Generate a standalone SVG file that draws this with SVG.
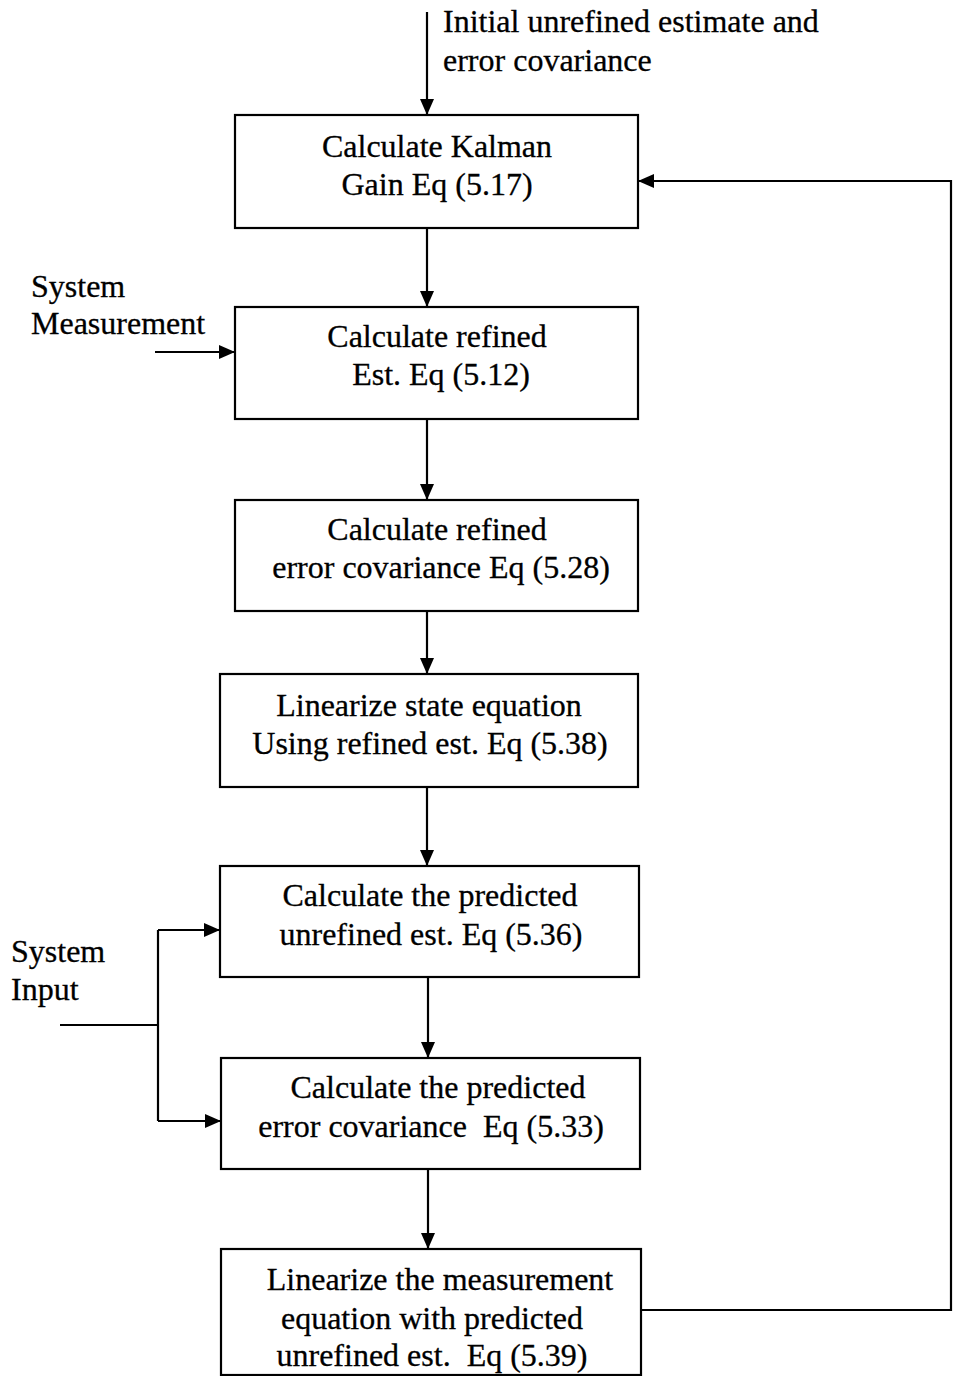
<svg xmlns="http://www.w3.org/2000/svg" width="954" height="1376" viewBox="0 0 954 1376">
  <style>
    .box { fill: #ffffff; stroke: #000000; stroke-width: 2.2; }
    .wire { fill: none; stroke: #000000; stroke-width: 2.2; }
    .t { font-family: "Liberation Serif", "Times New Roman", serif; font-size: 32px; fill: #000000; stroke: #000000; stroke-width: 0.3; }
    .c { text-anchor: middle; }
  </style>
  <defs>
    <marker id="arrow" viewBox="0 0 16 14" refX="16" refY="7" markerWidth="16" markerHeight="14" markerUnits="userSpaceOnUse" orient="auto">
      <path d="M0,0 L16,7 L0,14 Z" fill="#000000"/>
    </marker>
  </defs>

  <rect width="954" height="1376" fill="#ffffff"/>

  <!-- connectors -->
  <g id="connectors">
    <path class="wire" d="M427,12 V115" marker-end="url(#arrow)"/>
    <path class="wire" d="M427,228 V307" marker-end="url(#arrow)"/>
    <path class="wire" d="M427,419 V500" marker-end="url(#arrow)"/>
    <path class="wire" d="M427,611 V674" marker-end="url(#arrow)"/>
    <path class="wire" d="M427,787 V866" marker-end="url(#arrow)"/>
    <path class="wire" d="M428,977 V1058" marker-end="url(#arrow)"/>
    <path class="wire" d="M428,1169 V1249" marker-end="url(#arrow)"/>
    <!-- feedback loop back to the gain step -->
    <path class="wire" d="M641,1310 H951 V181 H638" marker-end="url(#arrow)"/>
    <!-- measurement input -->
    <path class="wire" d="M155,352 H235" marker-end="url(#arrow)"/>
    <!-- system input split -->
    <path class="wire" d="M60,1025 H158"/>
    <path class="wire" d="M158,930 V1121"/>
    <path class="wire" d="M158,930 H220" marker-end="url(#arrow)"/>
    <path class="wire" d="M158,1121 H221" marker-end="url(#arrow)"/>
  </g>

  <!-- free labels -->
  <g id="label-initial">
    <text class="t" x="443" y="32">Initial unrefined estimate and</text>
    <text class="t" x="443" y="71">error covariance</text>
  </g>
  <g id="label-measurement">
    <text class="t" x="31" y="297">System</text>
    <text class="t" x="31" y="334">Measurement</text>
  </g>
  <g id="label-input">
    <text class="t" x="11" y="962">System</text>
    <text class="t" x="11" y="1000">Input</text>
  </g>

  <!-- process steps -->
  <g id="kalman-gain">
    <rect class="box" x="235" y="115" width="403" height="113"/>
    <text class="t c" x="437" y="157">Calculate Kalman</text>
    <text class="t c" x="437" y="195">Gain Eq (5.17)</text>
  </g>
  <g id="refined-est">
    <rect class="box" x="235" y="307" width="403" height="112"/>
    <text class="t c" x="437" y="347">Calculate refined</text>
    <text class="t c" x="441" y="385">Est. Eq (5.12)</text>
  </g>
  <g id="refined-cov">
    <rect class="box" x="235" y="500" width="403" height="111"/>
    <text class="t c" x="437" y="540">Calculate refined</text>
    <text class="t c" x="441" y="578">error covariance Eq (5.28)</text>
  </g>
  <g id="linearize-state">
    <rect class="box" x="220" y="674" width="418" height="113"/>
    <text class="t c" x="429" y="716">Linearize state equation</text>
    <text class="t c" x="430" y="754">Using refined est. Eq (5.38)</text>
  </g>
  <g id="predicted-est">
    <rect class="box" x="220" y="866" width="419" height="111"/>
    <text class="t c" x="430" y="906">Calculate the predicted</text>
    <text class="t c" x="431" y="945">unrefined est. Eq (5.36)</text>
  </g>
  <g id="predicted-cov">
    <rect class="box" x="221" y="1058" width="419" height="111"/>
    <text class="t c" x="438" y="1098">Calculate the predicted</text>
    <text class="t c" x="431" y="1137" xml:space="preserve">error covariance  Eq (5.33)</text>
  </g>
  <g id="linearize-measurement">
    <rect class="box" x="221" y="1249" width="420" height="126"/>
    <text class="t c" x="440" y="1290">Linearize the measurement</text>
    <text class="t c" x="432" y="1329">equation with predicted</text>
    <text class="t c" x="432" y="1366" xml:space="preserve">unrefined est.  Eq (5.39)</text>
  </g>
</svg>
